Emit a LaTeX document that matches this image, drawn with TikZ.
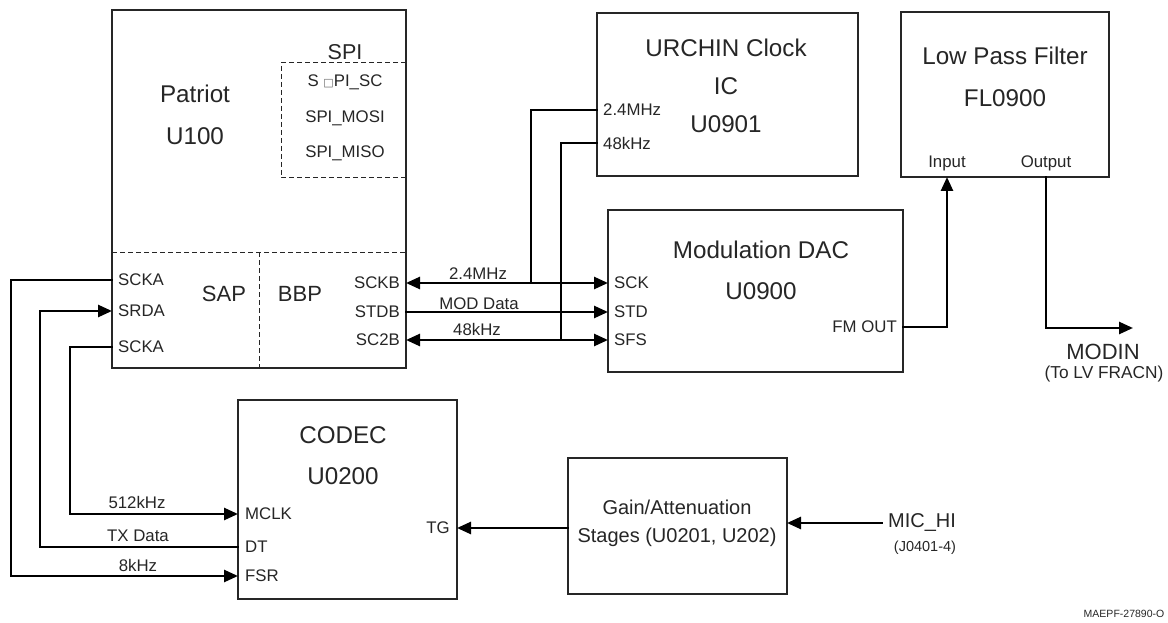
\documentclass[tikz,border=0pt]{standalone}
\usepackage{fontspec}
\setmainfont{Liberation Sans}
\newfontfamily\dejavu{DejaVu Sans}
\usetikzlibrary{arrows.meta}
\tikzset{
  box/.style={draw=black!85, line width=1.1pt, inner sep=0pt, outer sep=0pt, fill=white},
  dbox/.style={draw=black!85, line width=1pt, dash pattern=on 5pt off 3pt},
  title/.style={font=\fontsize{24.2}{27}\selectfont, text=black!85, inner sep=0pt},
  gtitle/.style={font=\fontsize{20}{23}\selectfont, text=black!85, inner sep=0pt},
  pin/.style={font=\fontsize{16.8}{19}\selectfont, text=black!85, inner sep=0pt},
  wire/.style={line width=2.6pt, line cap=rect},
  arr/.style={wire, -{Triangle[length=14pt,width=12pt]}},
  darr/.style={wire, {Triangle[length=14pt,width=12pt]}-{Triangle[length=14pt,width=12pt]}},
  lbl/.style={font=\fontsize{16.8}{19}\selectfont, text=black!85, inner sep=0pt, anchor=base}
}
\begin{document}
\begin{tikzpicture}[x=1pt,y=-1pt]
\useasboundingbox (0,0) rectangle (1168,623);
% boxes
\node[box, minimum width=294pt, minimum height=358pt] (pat) at (259,189) {};
\node[box, minimum width=261pt, minimum height=163pt] (urc) at (727.5,94.5) {};
\node[box, minimum width=208pt, minimum height=165pt] (lpf) at (1005,94.5) {};
\node[box, minimum width=295pt, minimum height=162pt] (dac) at (755.5,291) {};
\node[box, minimum width=219pt, minimum height=199pt] (cod) at (347.5,499.5) {};
\node[box, minimum width=219pt, minimum height=136pt] (gain) at (677.5,526) {};
% dashed partitions in Patriot
\draw[dbox] (pat.west |- 0,252) -- (pat.east |- 0,252);
\draw[dbox] (259,252) -- (259,368);
\draw[dbox] (406,63) -- (281,63) -- (281,178) -- (406,178);
% Patriot texts
\node[title] (tpat) at (195,94) {Patriot};
\node[title] (tu100) at (195,136) {U100};
\node[font=\fontsize{21.5}{24}\selectfont, text=black!85, inner sep=0pt] (tspi) at (345,52) {SPI};
\node[pin] (spisc) at (345,82) {S {\dejavu\fontsize{11}{13}\selectfont\color{black!60}□}PI\_SC};
\node[pin] (spimosi) at (345,118) {SPI\_MOSI};
\node[pin] (spimiso) at (345,153) {SPI\_MISO};
\node[font=\fontsize{22}{25}\selectfont, text=black!85, inner sep=0pt] (tsap) at (224,294) {SAP};
\node[font=\fontsize{22}{25}\selectfont, text=black!85, inner sep=0pt] (tbbp) at (300,294) {BBP};
\node[pin, anchor=west] (scka1) at (118,280) {SCKA};
\node[pin, anchor=west] (srda) at (118,311) {SRDA};
\node[pin, anchor=west] (scka2) at (118,347) {SCKA};
\node[pin, anchor=east] (sckb) at (400,283) {SCKB};
\node[pin, anchor=east] (stdb) at (400,312) {STDB};
\node[pin, anchor=east] (sc2b) at (400,340) {SC2B};
% URCHIN
\node[title] (turc1) at (726,48) {URCHIN Clock};
\node[title] (turc2) at (726,86) {IC};
\node[title] (turc3) at (726,124) {U0901};
\node[pin, anchor=west] (u24) at (603,110) {2.4MHz};
\node[pin, anchor=west] (u48) at (603,143) {48kHz};
% LPF
\node[title] (tlpf1) at (1005,56) {Low Pass Filter};
\node[title] (tlpf2) at (1005,98) {FL0900};
\node[pin] (lin) at (947,163) {Input};
\node[pin] (lout) at (1046,163) {Output};
% DAC
\node[title] (tdac1) at (761,250) {Modulation DAC};
\node[title] (tdac2) at (761,291) {U0900};
\node[pin, anchor=west] (sck) at (614,283) {SCK};
\node[pin, anchor=west] (std) at (614,312) {STD};
\node[pin, anchor=west] (sfs) at (614,340) {SFS};
\node[pin, anchor=east] (fmout) at (897,327) {FM OUT};
% CODEC
\node[title] (tcod1) at (343,435) {CODEC};
\node[title] (tcod2) at (343,476) {U0200};
\node[pin, anchor=west] (mclk) at (245,514) {MCLK};
\node[pin, anchor=west] (dt) at (245,547) {DT};
\node[pin, anchor=west] (fsr) at (245,576) {FSR};
\node[pin, anchor=east] (tg) at (450,528) {TG};
% Gain
\node[gtitle] (tg1) at (677,507) {Gain/Attenuation};
\node[gtitle] (tg2) at (677,537) {Stages (U0201, U202)};
% external labels
\node[font=\fontsize{20}{23}\selectfont, text=black!85, inner sep=0pt] (mic) at (922,523) {MIC\_HI};
\node[font=\fontsize{14.5}{17}\selectfont, text=black!85, inner sep=0pt] (jack) at (925,548) {(J0401-4)};
\node[font=\fontsize{22}{25}\selectfont, text=black!85, inner sep=0pt] (modin) at (1103,352) {MODIN};
\node[font=\fontsize{17.3}{19}\selectfont, text=black!85, inner sep=0pt] (tolv) at (1104,374) {(To LV FRACN)};
\node[font=\fontsize{10.5}{12}\selectfont, text=black!85, inner sep=0pt] (code) at (1124,614) {MAEPF-27890-O};
% coordinates for wire corners
\coordinate (j24) at (531,283);
\coordinate (j48) at (561,340);
\coordinate (micstart) at (882,523);
% BBP to DAC
\draw[darr] (pat.east |- sckb) -- (dac.west |- sckb);
\draw[arr] (pat.east |- stdb) -- (dac.west |- stdb);
\draw[darr] (pat.east |- sc2b) -- (dac.west |- sc2b);
\node[lbl] at (478,279) {2.4MHz};
\node[lbl] at (479,309) {MOD Data};
\node[lbl] at (477,335) {48kHz};
% URCHIN to bus
\draw[wire] (urc.west |- u24) -| (j24);
\draw[wire] (urc.west |- u48) -| (j48);
% FM OUT to LPF
\draw[arr] (dac.east |- fmout) -| (lin |- lpf.south);
\draw[arr] (lout |- lpf.south) |- (1133,328) coordinate (modtip);
% SAP to CODEC
\draw[arr] (pat.west |- scka1) -- (11,280) |- (cod.west |- fsr);
\draw[arr] (cod.west |- dt) -- (40,547) |- (pat.west |- srda);
\draw[arr] (pat.west |- scka2) -- (70,347) |- (cod.west |- mclk);
\node[lbl] at (137,508) {512kHz};
\node[lbl] at (138,541) {TX Data};
\node[lbl] at (138,571) {8kHz};
% Gain
\draw[arr] (gain.west |- tg) -- (cod.east |- tg);
\draw[arr] (micstart) -- (gain.east |- micstart);
\end{tikzpicture}
\end{document}
